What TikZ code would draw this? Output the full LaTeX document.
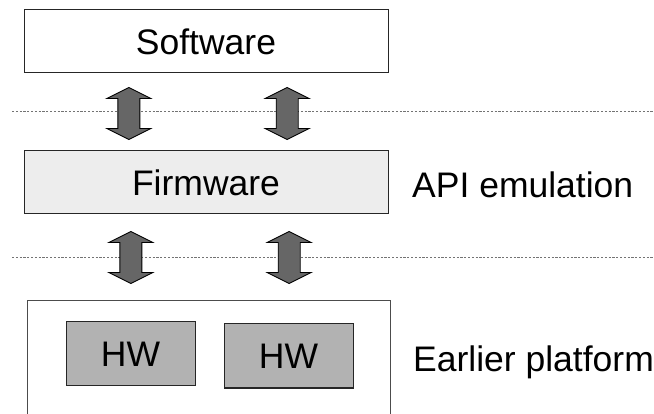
\documentclass[tikz,border=0pt]{standalone}
\usepackage{fontspec}
\setmainfont{Liberation Sans}
\usetikzlibrary{calc}
\begin{document}
\begin{tikzpicture}[x=1pt,y=-1pt,
  layerbox/.style={draw=black!85,line width=1pt,rectangle,inner sep=0pt,
    font=\fontsize{35.5}{40}\selectfont},
  hwbox/.style={layerbox,fill=black!30,minimum width=129pt,minimum height=64pt},
  sep/.style={draw=black!55,line width=1pt,dash pattern=on 2.2pt off 1.6pt},
  sidelabel/.style={anchor=base west,inner sep=0pt,font=\fontsize{35.5}{40}\selectfont},
  bidir/.pic={
    \draw[draw=black,line width=0.9pt,fill=black!60,line join=miter]
      (0,-26) -- (22,-15) -- (11,-15) -- (11,15) -- (22,15) -- (0,26)
      -- (-22,15) -- (-11,15) -- (-11,-15) -- (-22,-15) -- cycle;
  }]
  \useasboundingbox (0,0) rectangle (654,414);
  \clip (0,0) rectangle (654,414);

  % layer boxes
  \node[layerbox,fill=white,minimum width=364pt,minimum height=63pt] (sw) at (206,41.5) {Software};
  \node[layerbox,fill=black!7,minimum width=364pt,minimum height=63pt] (fw) at (206,182.5) {Firmware};
  \draw[draw=black!70,line width=1pt] (27,430) -- (27,301) -- (390,301) -- (390,430);
  \node[hwbox] (hw1) at (130.5,354) {HW};
  \node[hwbox] (hw2) at (288.5,356) {HW};

  % layer separators
  \coordinate (s1a) at (12,112);  \coordinate (s1b) at (654,112);
  \coordinate (s2a) at (12,258);  \coordinate (s2b) at (654,258);
  \draw[sep] (s1a) -- (s1b);
  \draw[sep] (s2a) -- (s2b);

  % interface arrows
  \pic at ($(sw.south west)!0.2885!(sw.south east)+(0,40)$) {bidir};
  \pic at ($(sw.south west)!0.7225!(sw.south east)+(0,40)$) {bidir};
  \pic at ($(fw.south west)!0.294!(fw.south east)+(0,43)$) {bidir};
  \pic at ($(fw.south west)!0.728!(fw.south east)+(0,43)$) {bidir};

  % side labels
  \node[sidelabel] (api) at (412,198) {API emulation};
  \node[sidelabel] (ep) at (413,372) {Earlier platform};
\end{tikzpicture}
\end{document}
